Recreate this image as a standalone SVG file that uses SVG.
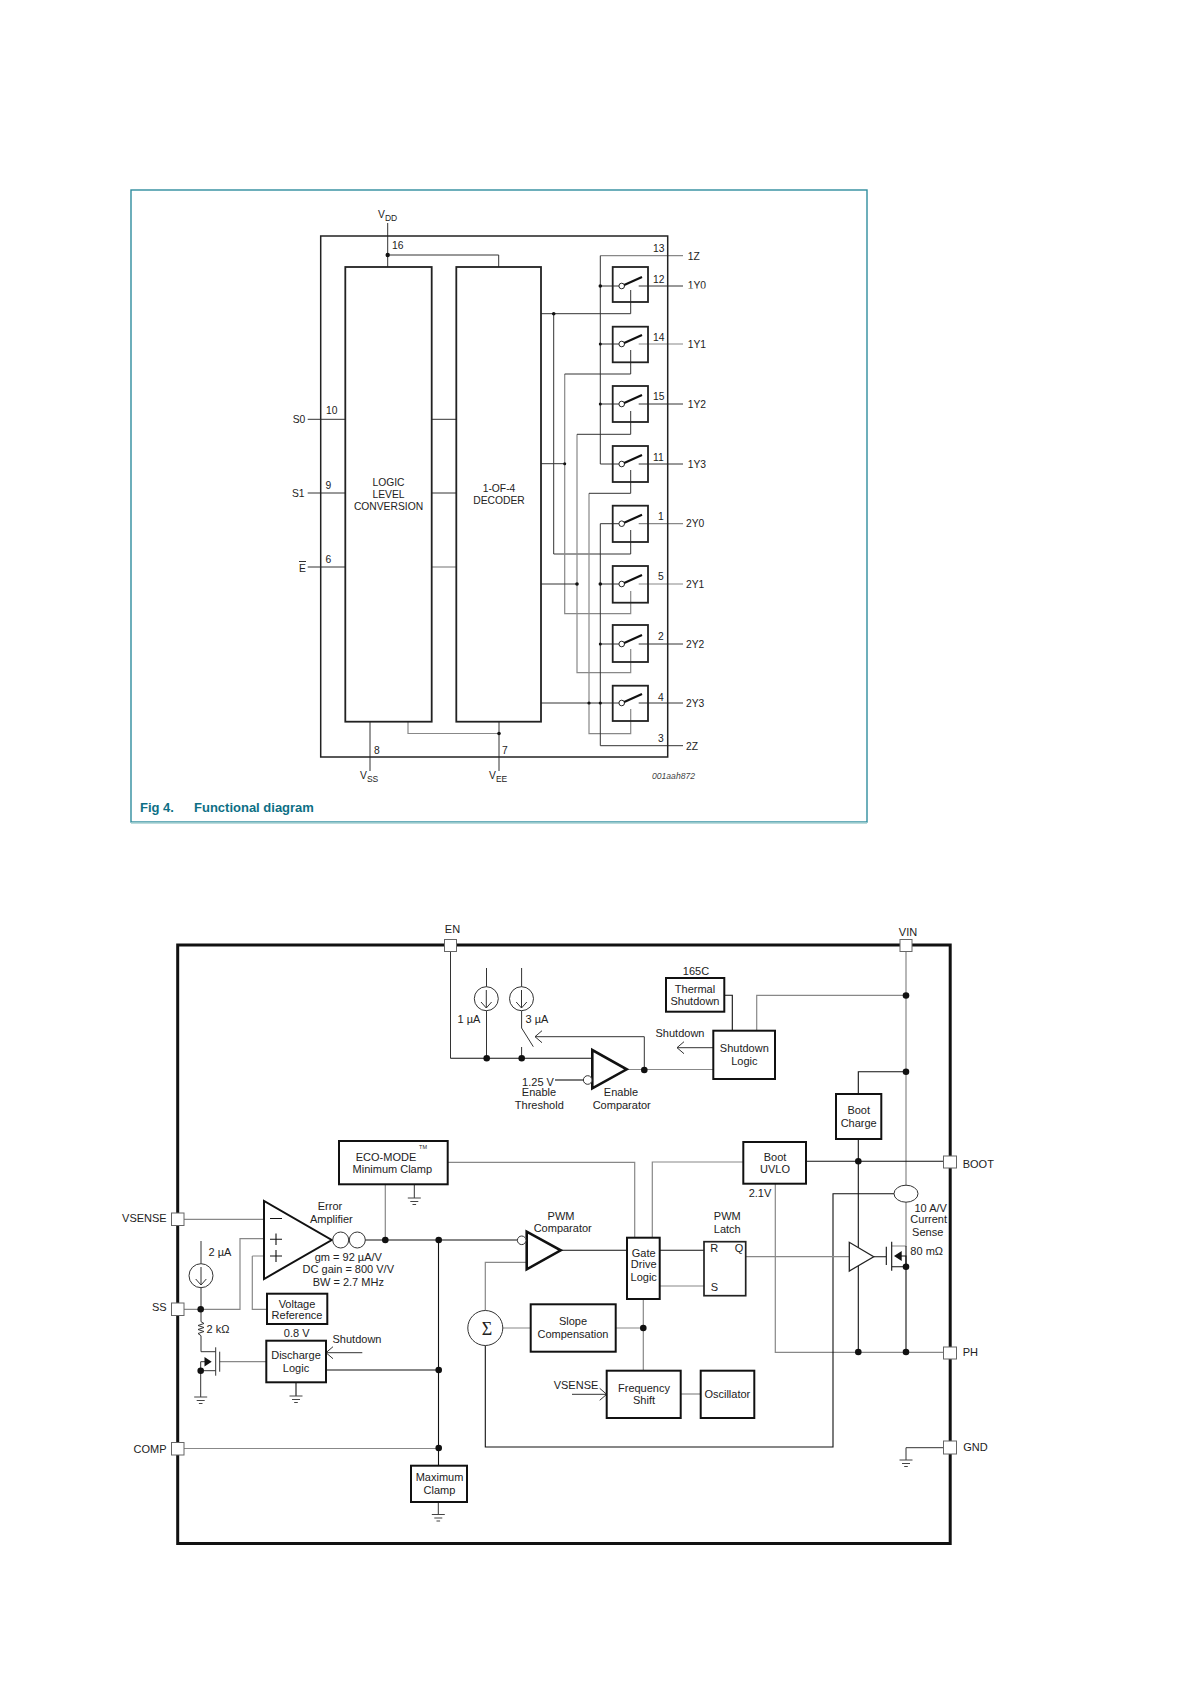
<svg xmlns="http://www.w3.org/2000/svg" width="1191" height="1684" viewBox="0 0 1191 1684">
<style>
text{font-family:"Liberation Sans",Arial,sans-serif;font-size:11px;fill:#222}
.m{text-anchor:middle}
.e{text-anchor:end}
.n{font-size:10.3px}
.l{fill:none;stroke:#333;stroke-width:1}
.g{fill:none;stroke:#888;stroke-width:1.2}
.k{fill:none;stroke:#111;stroke-width:1.1}
.b{fill:#fff;stroke:#111;stroke-width:2}
.bt{fill:#fff;stroke:#111;stroke-width:2.6}
.nb{fill:none;stroke:#222;stroke-width:1.8}
.c{fill:#fff;stroke:#333;stroke-width:1}
.p{fill:#fff;stroke:#666;stroke-width:1}
.d{fill:#111;stroke:none}
.a{marker-end:url(#chev)}
</style>
<defs>
<marker id="chev" markerUnits="userSpaceOnUse" markerWidth="12" markerHeight="14" refX="10" refY="7" orient="auto"><path d="M3 1L10 7L3 13" fill="none" stroke="#333" stroke-width="1"/></marker>
<g id="gnd"><path d="M-6.5 0H6.5M-4 3.5H4M-1.8 6.5H1.8" fill="none" stroke="#444" stroke-width="1"/></g>
<g id="sw"><circle cx="621.7" cy="0" r="2.8" fill="#fff" stroke="#222" stroke-width="1"/><path d="M624.2 -1L642 -9" fill="none" stroke="#111" stroke-width="2.2"/></g>
<clipPath id="cut"><rect x="680" y="270" width="40" height="18.5"/></clipPath>
</defs>

<rect id="figure-frame" x="131" y="190" width="736" height="632" fill="none" stroke="#2f8d9e" stroke-width="1.4"/>
<path d="M131 823H867" stroke="#a5d0d2" stroke-width="1.5"/>
<text id="fig-caption" y="812" x="140" style="font-size:13px;fill:#0d6f85;font-weight:bold">Fig 4.<tspan x="194">Functional diagram</tspan></text>

<g id="connectors-top">
<path class="l" d="M387.7 223V267M387.7 255H498.7V267"/>
<path class="l" d="M307.7 419.3H345M431.7 419.3H456.3"/>
<path class="l" d="M307.7 493H345M431.7 493H456.3"/>
<path class="l" d="M307.7 567H345"/><path class="g" d="M431.7 567H456.3"/>
<path class="l" d="M370 722V771M499 722V771"/>
<path class="g" d="M408 722V733.5H499"/>
<path class="l" d="M541 313.7H630.7V290"/>
<path class="l" d="M553.7 313.7V554H630.7V530"/>
<path class="l" d="M541 463.7H564.7"/>
<path class="g" d="M564.7 374V613.7H630.7V591"/>
<path class="l" d="M564.7 374H630.7V350"/>
<path class="l" d="M541 584H577"/>
<path class="g" d="M577 434.3V672.7H630.7V649"/>
<path class="l" d="M577 434.3H630.7V411"/>
<path class="l" d="M541 703H600"/>
<path class="g" d="M589 493.3V733.7H630.7V709"/>
<path class="l" d="M589 493.3H630.7V470"/>
<path class="g" d="M600.3 255.7H683"/>
<path class="l" d="M600.3 255.7V464H619M600.3 286H619M600.3 344H619M600.3 404H619"/>
<path class="l" d="M619 523.7H600.3V745.7H683M600.3 584H619M600.3 644H619M600.3 703H619"/>
<path class="l" d="M638.7 286H683M638.7 404H683M638.7 464H683M638.7 644H683M638.7 703H683"/>
<path class="g" d="M638.7 344H683M638.7 523.7H683M638.7 584H683"/>
<g class="d">
<circle cx="387.7" cy="255" r="2.2"/><circle cx="553.7" cy="313.7" r="1.8"/><circle cx="564.7" cy="463.7" r="1.5"/><circle cx="577" cy="584" r="1.8"/><circle cx="589" cy="703" r="1.6"/><circle cx="499" cy="733.5" r="1.8"/>
<circle cx="600.3" cy="286" r="1.8"/><circle cx="600.3" cy="344" r="1.5"/><circle cx="600.3" cy="404" r="1.5"/><circle cx="600.3" cy="584" r="1.8"/><circle cx="600.3" cy="644" r="1.5"/><circle cx="600.3" cy="703" r="1.6"/>
</g>
</g>

<g id="functional-package"><rect x="320.7" y="236" width="347" height="521" fill="none" stroke="#222" stroke-width="1.5"/></g>
<g id="logic-level-conversion"><rect class="nb" x="345.3" y="267" width="86.4" height="454.7"/>
<text class="m n" x="388.5" y="486">LOGIC</text><text class="m n" x="388.5" y="498">LEVEL</text><text class="m n" x="388.5" y="510">CONVERSION</text></g>
<g id="decoder"><rect class="nb" x="456.3" y="267" width="84.7" height="454.7"/>
<text class="m n" x="499" y="491.5">1-OF-4</text><text class="m n" x="499" y="504">DECODER</text></g>

<g id="sw-1Y0"><rect class="nb" x="612.7" y="267" width="35.3" height="35"/><use href="#sw" y="286"/><text class="n" x="653" y="283">12</text><text class="n" x="687.7" y="289" clip-path="url(#cut)">1Y0</text></g>
<g id="sw-1Y1"><rect class="nb" x="612.7" y="326.7" width="35.3" height="35.6"/><use href="#sw" y="344"/><text class="n" x="653" y="341">14</text><text class="n" x="687.7" y="348">1Y1</text></g>
<g id="sw-1Y2"><rect class="nb" x="612.7" y="386" width="35.3" height="36"/><use href="#sw" y="404"/><text class="n" x="653" y="400">15</text><text class="n" x="687.7" y="408">1Y2</text></g>
<g id="sw-1Y3"><rect class="nb" x="612.7" y="446" width="35.3" height="36"/><use href="#sw" y="464"/><text class="n" x="653" y="461">11</text><text class="n" x="687.7" y="468">1Y3</text></g>
<g id="sw-2Y0"><rect class="nb" x="612.7" y="505.7" width="35.3" height="36.3"/><use href="#sw" y="523.7"/><text class="n" x="658" y="520">1</text><text class="n" x="686" y="527">2Y0</text></g>
<g id="sw-2Y1"><rect class="nb" x="612.7" y="566" width="35.3" height="36.7"/><use href="#sw" y="584"/><text class="n" x="658" y="580">5</text><text class="n" x="686" y="588">2Y1</text></g>
<g id="sw-2Y2"><rect class="nb" x="612.7" y="625" width="35.3" height="37"/><use href="#sw" y="644"/><text class="n" x="658" y="640">2</text><text class="n" x="686" y="648">2Y2</text></g>
<g id="sw-2Y3"><rect class="nb" x="612.7" y="685.7" width="35.3" height="35.3"/><use href="#sw" y="703"/><text class="n" x="658" y="701">4</text><text class="n" x="686" y="707">2Y3</text></g>

<g id="pins-top">
<text class="n" x="378" y="218">V<tspan font-size="8.5" dy="2.5">DD</tspan></text>
<text class="n" x="392" y="249">16</text>
<text class="n" x="292.7" y="422.5">S0</text><text class="n" x="326" y="414">10</text>
<text class="n" x="292" y="497">S1</text><text class="n" x="325.5" y="489">9</text>
<text class="n" x="299" y="572">E</text><path class="l" d="M299 561.5H306"/><text class="n" x="325.5" y="563">6</text>
<text class="n" x="653" y="252">13</text><text class="n" x="687.7" y="259.5">1Z</text>
<text class="n" x="658" y="742">3</text><text class="n" x="686" y="749.5">2Z</text>
<text class="n" x="374" y="754">8</text><text class="n" x="502" y="754">7</text>
<text class="n" x="360" y="779">V<tspan font-size="8.5" dy="2.5">SS</tspan></text>
<text class="n" x="489" y="779">V<tspan font-size="8.5" dy="2.5">EE</tspan></text>
<text x="652" y="779" font-style="italic" style="font-size:8.6px;fill:#444">001aah872</text>
</g>

<g id="connectors-bottom">
<path class="l" d="M450.5 951V1058.3"/>
<path class="k" d="M450.5 1058.3H592.3"/>
<path class="l" d="M486.5 968V1058M521.6 968V1028L533.3 1046.7M521.6 1047V1058"/>
<path class="l a" d="M644.3 1070V1036.7H535"/>
<path class="k" d="M555 1080H583"/>
<path class="g" d="M626.7 1069.5H713.3"/>
<path class="l a" d="M713.3 1047.7H677"/>
<path class="k" d="M724.3 995.3H732.3V1030.7"/>
<path class="g" d="M756.7 1030.7V995.3H906M906 951V1246H891.7"/>
<path class="k" d="M906 1071.7H858.3V1094"/>
<path class="k" d="M858.3 1139V1352.3"/>
<path class="k" d="M806 1161.3H944"/>
<path class="g" d="M743.3 1162H652.3V1237.7"/>
<path class="g" d="M447.7 1162.3H634.7V1237.7"/>
<path class="g" d="M775.3 1183.7V1352.3H944"/>
<path class="k" d="M906 1246V1353"/>
<path class="k" d="M894 1193.7H833V1447H485.3V1345.5"/>
<path class="g" d="M485.3 1310.5V1262.3H526.7"/>
<path class="g" d="M746 1256.7H849.3"/>
<path class="k" d="M873.7 1256.7H886.3M886.3 1246.7V1265"/>
<path class="k" d="M891.7 1241.7V1270.7M891.7 1266.7H906M901 1256H906V1266.7"/>
<path class="k" d="M560.7 1250.3H627M659.7 1250.3H704"/>
<path class="g" d="M659.7 1286H704"/>
<path class="g" d="M503 1328H530.7M615.7 1328H643.3M643.3 1299V1370.7"/>
<path class="g" d="M680.7 1394H700.7"/>
<path class="l a" d="M572 1394.3H606.7"/>
<path class="k" d="M365 1240H517.3"/>
<path class="k" d="M438.5 1240V1466"/>
<path class="g" d="M385.3 1184.3V1240"/>
<path class="l" d="M414.3 1184.3V1198"/>
<path class="g" d="M184 1448.5H438.5"/>
<path class="l" d="M438.3 1502V1514.5"/>
<path class="l" d="M943 1447.7H906V1460"/>
<path class="g" d="M184 1219.3H264"/>
<path class="g" d="M184 1309.3H240V1238.7H264"/>
<path class="g" d="M252.3 1256H264M252.3 1256V1309.3H267"/>
<path class="l" d="M201 1241V1263.7M201 1287.7V1309.3"/>
<path class="l" d="M201 1309.3V1321.7L204 1323.5L198 1325.5L204 1327.5L198 1329.5L204 1331.5L198 1333.5L201 1335.7V1351.7H215.7"/>
<path class="g" d="M219.7 1361.7H266.3"/>
<path class="l" d="M215.7 1347.3V1375.7M219.7 1351.7V1371.7"/>
<path class="l" d="M215.7 1370.7H200.7V1397M200.7 1370.7V1361.7H205"/>
<path class="l a" d="M362.3 1352.7H326"/>
<path class="k" d="M326 1370H438.5"/>
<path class="k" d="M296 1382.3V1396"/>
<g class="d">
<circle cx="486.7" cy="1058.3" r="3.3"/><circle cx="521.7" cy="1058.3" r="3.3"/><circle cx="644.3" cy="1070" r="3.3"/>
<circle cx="906" cy="995.5" r="3.3"/><circle cx="906" cy="1071.7" r="3.3"/><circle cx="858.3" cy="1161.3" r="3.3"/><circle cx="906" cy="1266.7" r="3.3"/><circle cx="858.3" cy="1352" r="3.3"/><circle cx="906" cy="1352" r="3.3"/>
<circle cx="385.3" cy="1240" r="3.3"/><circle cx="438.7" cy="1240" r="3.3"/><circle cx="438.7" cy="1370" r="3.3"/><circle cx="438.7" cy="1448" r="3.3"/><circle cx="643.3" cy="1328" r="3.3"/>
<circle cx="200.7" cy="1309.3" r="3.3"/><circle cx="200.7" cy="1370.7" r="3.3"/>
</g>
<path class="d" d="M901.7 1251V1261L894 1256ZM204.5 1357V1366.5L211.7 1361.7Z"/>
<use href="#gnd" x="414.3" y="1198"/><use href="#gnd" x="438.3" y="1514.5"/><use href="#gnd" x="906" y="1460"/><use href="#gnd" x="296" y="1396"/><use href="#gnd" x="200.7" y="1397"/>
</g>

<g id="chip-outline"><rect x="177.7" y="945" width="772.5" height="598.5" fill="none" stroke="#111" stroke-width="3"/></g>
<g id="pin-EN"><rect class="p" x="444.5" y="939.5" width="12" height="12"/><text class="m" x="452.5" y="933">EN</text></g>
<g id="pin-VIN"><rect class="p" x="900" y="939.5" width="12" height="12"/><text class="m" x="908" y="936">VIN</text></g>
<g id="pin-BOOT"><rect class="p" x="943.5" y="1156" width="13" height="12"/><text x="962.7" y="1168">BOOT</text></g>
<g id="pin-PH"><rect class="p" x="943.5" y="1347" width="13" height="12"/><text x="962.7" y="1356">PH</text></g>
<g id="pin-GND"><rect class="p" x="943.5" y="1441" width="13" height="13"/><text x="963.3" y="1451">GND</text></g>
<g id="pin-VSENSE"><rect class="p" x="171.5" y="1213" width="12.5" height="12.5"/><text class="e" x="166.7" y="1222">VSENSE</text></g>
<g id="pin-SS"><rect class="p" x="171.5" y="1303" width="12.5" height="12.5"/><text class="e" x="166.7" y="1311">SS</text></g>
<g id="pin-COMP"><rect class="p" x="171.5" y="1442.5" width="12.5" height="12.5"/><text class="e" x="166.5" y="1453">COMP</text></g>

<g id="source-1uA"><circle class="c" cx="486.3" cy="998.7" r="12"/><path class="l" d="M486.3 990V1008M481 1002L486.3 1008L491.6 1002"/><text class="m" x="469" y="1023">1 µA</text></g>
<g id="source-3uA"><circle class="c" cx="521.5" cy="998.7" r="12"/><path class="l" d="M521.5 990V1008M516.2 1002L521.5 1008L526.8 1002"/><text class="m" x="537" y="1023">3 µA</text></g>
<g id="enable-comparator"><path class="bt" d="M592.3 1050V1088.3L626.7 1069.3Z"/><circle class="c" cx="587.7" cy="1080" r="4.3"/>
<text class="m" x="538" y="1085.5">1.25 V</text><text class="m" x="539" y="1096">Enable</text><text class="m" x="539.3" y="1109">Threshold</text><text class="m" x="621" y="1096">Enable</text><text class="m" x="621.7" y="1109">Comparator</text></g>
<g id="thermal-shutdown"><rect class="b" x="666" y="978" width="58.3" height="33.7"/><text class="m" x="695" y="993">Thermal</text><text class="m" x="695" y="1005">Shutdown</text><text class="m" x="696" y="975">165C</text></g>
<g id="shutdown-logic"><rect class="b" x="713.3" y="1030.7" width="61.7" height="48.3"/><text class="m" x="744.3" y="1052">Shutdown</text><text class="m" x="744.3" y="1065">Logic</text><text class="m" x="680" y="1037">Shutdown</text></g>
<g id="boot-charge"><rect class="b" x="836" y="1094" width="45.3" height="45"/><text class="m" x="858.7" y="1114">Boot</text><text class="m" x="858.7" y="1127">Charge</text></g>
<g id="boot-uvlo"><rect class="b" x="743.3" y="1142" width="62.7" height="41.7"/><text class="m" x="775" y="1161">Boot</text><text class="m" x="775" y="1173">UVLO</text><text class="m" x="760" y="1197">2.1V</text></g>
<g id="current-sense"><ellipse class="c" cx="906" cy="1193.7" rx="12" ry="8.5"/><text class="m" x="930.7" y="1212">10 A/V</text><text class="m" x="928.7" y="1223">Current</text><text class="m" x="927.7" y="1236">Sense</text><text class="m" x="926.7" y="1254.5">80 mΩ</text></g>
<g id="driver"><path d="M849.3 1242.3V1271L873.7 1256.7Z" fill="#fff" stroke="#222" stroke-width="1.3"/></g>
<g id="pwm-latch"><rect x="704" y="1241.7" width="41.7" height="54" fill="#fff" stroke="#222" stroke-width="1.7"/><text class="m" x="714.3" y="1252">R</text><text class="m" x="739" y="1252">Q</text><text class="m" x="714.3" y="1291">S</text><text class="m" x="727.3" y="1220">PWM</text><text class="m" x="727.3" y="1233">Latch</text></g>
<g id="gate-drive-logic"><rect class="b" x="627" y="1237.7" width="32.7" height="61.3"/><text class="m" x="643.7" y="1257">Gate</text><text class="m" x="643.7" y="1268">Drive</text><text class="m" x="643.7" y="1281">Logic</text></g>
<g id="eco-mode"><rect class="b" x="339" y="1141" width="108.7" height="43.3"/><text class="m" x="386" y="1161">ECO-MODE</text><text x="423" y="1149" class="m" style="font-size:5.5px">TM</text><text class="m" x="392.3" y="1173">Minimum Clamp</text></g>
<g id="error-amplifier"><path class="b" d="M264 1201V1279L331.7 1240Z"/><path class="k" d="M270 1218.5H282M270 1239.3H282M276 1233.5V1245M270 1256H282M276 1250V1262"/>
<circle class="c" cx="340.7" cy="1240" r="8"/><circle class="c" cx="357.3" cy="1240" r="8"/>
<text class="m" x="330" y="1209.5">Error</text><text class="m" x="331.3" y="1222.5">Amplifier</text><text class="m" x="348.3" y="1261">gm = 92 µA/V</text><text class="m" x="348.3" y="1273">DC gain = 800 V/V</text><text class="m" x="348.3" y="1286">BW = 2.7 MHz</text></g>
<g id="pwm-comparator"><path class="bt" d="M526.7 1231.7V1269.3L560.7 1250.3Z"/><circle class="c" cx="521.7" cy="1240.3" r="4.3"/><text class="m" x="561" y="1220">PWM</text><text class="m" x="562.7" y="1231.5">Comparator</text></g>
<g id="sigma"><circle class="c" cx="485.3" cy="1328" r="17.5"/><text class="m" x="487" y="1334.5" style="font-family:'Liberation Serif',serif;font-size:18px">Σ</text></g>
<g id="slope-compensation"><rect class="b" x="530.7" y="1304.3" width="85" height="47.4"/><text class="m" x="573" y="1325">Slope</text><text class="m" x="573" y="1338">Compensation</text></g>
<g id="frequency-shift"><rect class="b" x="606.7" y="1370.7" width="74" height="47.3"/><text class="m" x="644" y="1392">Frequency</text><text class="m" x="644" y="1404">Shift</text><text class="m" x="576" y="1389">VSENSE</text></g>
<g id="oscillator"><rect class="b" x="700.7" y="1370.7" width="53.6" height="47.3"/><text class="m" x="727.3" y="1398">Oscillator</text></g>
<g id="maximum-clamp"><rect class="b" x="411" y="1465.7" width="56" height="36.3"/><text class="m" x="439.5" y="1480.5">Maximum</text><text class="m" x="439.5" y="1493.5">Clamp</text></g>
<g id="source-2uA"><circle class="c" cx="201" cy="1275.7" r="12"/><path class="l" d="M201 1267V1285M195.7 1279L201 1285L206.3 1279"/><text class="m" x="220" y="1256">2 µA</text><text class="m" x="218" y="1333">2 kΩ</text></g>
<g id="voltage-reference"><rect class="b" x="267" y="1293.7" width="60.3" height="30.3"/><text class="m" x="297" y="1308">Voltage</text><text class="m" x="297" y="1319">Reference</text><text class="m" x="296.7" y="1337">0.8 V</text></g>
<g id="discharge-logic"><rect class="b" x="266.3" y="1340.7" width="59.7" height="41.6"/><text class="m" x="296" y="1359">Discharge</text><text class="m" x="296" y="1372">Logic</text><text class="m" x="357" y="1343">Shutdown</text></g>
</svg>
